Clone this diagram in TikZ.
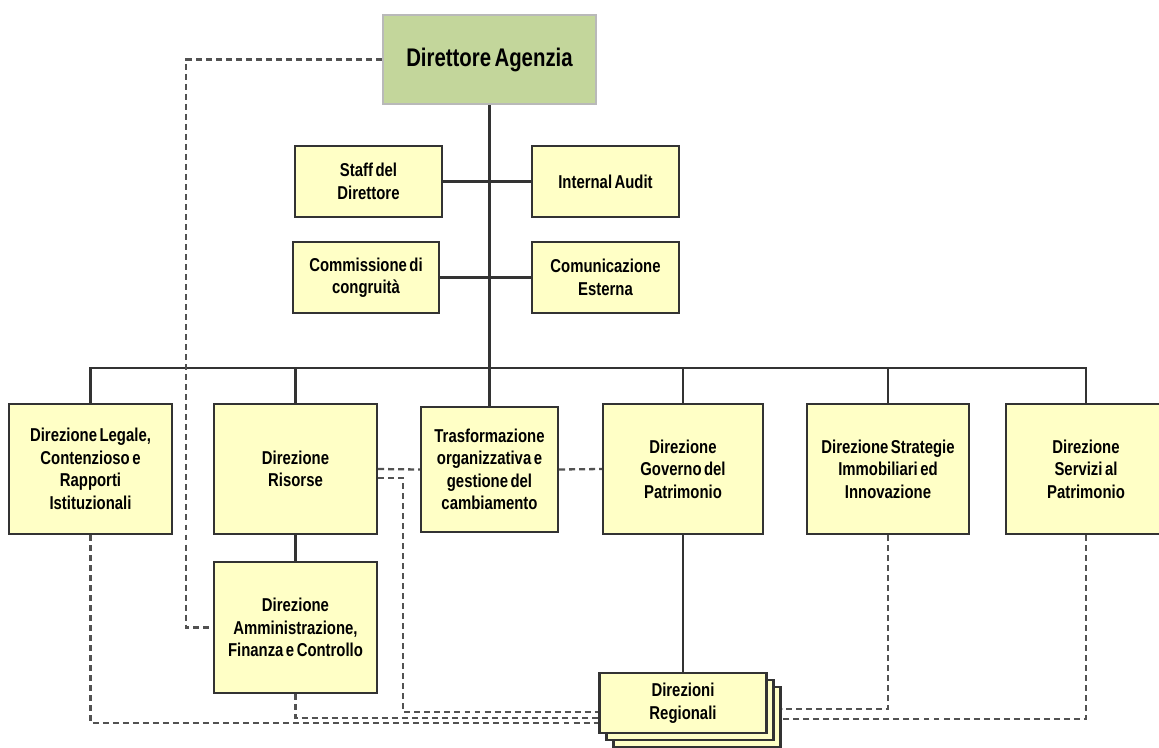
\documentclass[tikz,border=0pt]{standalone}
\usepackage{fontspec}
\setmainfont{Liberation Sans}[FakeStretch=0.8,WordSpace=0.6]
\usetikzlibrary{calc}
\definecolor{boxyellow}{HTML}{FFFFC6}
\definecolor{boxgreen}{HTML}{C3D69B}
\definecolor{linegray}{HTML}{333333}
\tikzset{
  unit/.style={draw=linegray, line width=1.2pt, fill=boxyellow, align=center, inner sep=2pt,
    font=\bfseries\fontsize{10.6}{12.8}\selectfont},
  link/.style={linegray, line width=1.2pt},
  dotlink/.style={linegray!85, line width=1.3pt, dash pattern=on 3.4pt off 2.3pt}
}
\begin{document}
\begin{tikzpicture}[x=0.02cm,y=-0.02cm]
  \useasboundingbox (0,0) rectangle (1159,747);
  \fill[white] (0,0) rectangle (1159,747);
  \clip (0,0) rectangle (1159,747);
  % vertice
  \node[unit, fill=boxgreen, draw=gray!55, minimum width=4.26cm, minimum height=1.78cm,
    font=\bfseries\fontsize{14.5}{17}\selectfont] (dir) at (489.5,59.5) {Direttore Agenzia};
  % staff
  \node[unit, minimum width=2.94cm, minimum height=1.42cm] (staff) at (368.5,181.5) {Staff del\\Direttore};
  \node[unit, minimum width=2.94cm, minimum height=1.42cm] (audit) at (605.5,181.5) {Internal Audit};
  \node[unit, minimum width=2.92cm, minimum height=1.42cm] (comm) at (366,277.5) {Commissione di\\congruità};
  \node[unit, minimum width=2.94cm, minimum height=1.42cm] (comest) at (605.5,277.5) {Comunicazione\\Esterna};
  % direzioni centrali
  \node[unit, minimum width=3.26cm, minimum height=2.6cm] (legale) at (90.5,469) {Direzione Legale,\\Contenzioso e\\Rapporti\\Istituzionali};
  \node[unit, minimum width=3.26cm, minimum height=2.6cm] (risorse) at (295.5,469) {Direzione\\Risorse};
  \node[unit, minimum width=2.74cm, minimum height=2.5cm] (trasf) at (489.5,469.5) {Trasformazione\\organizzativa e\\gestione del\\cambiamento};
  \node[unit, minimum width=3.2cm, minimum height=2.6cm] (governo) at (683,469) {Direzione\\Governo del\\Patrimonio};
  \node[unit, minimum width=3.24cm, minimum height=2.6cm] (strat) at (888,469) {Direzione Strategie\\Immobiliari ed\\Innovazione};
  \node[unit, minimum width=3.2cm, minimum height=2.6cm] (servizi) at (1086,469) {Direzione\\Servizi al\\Patrimonio};
  \node[unit, minimum width=3.26cm, minimum height=2.62cm] (ammin) at (295.5,627.5) {Direzione\\Amministrazione,\\Finanza e Controllo};
  % direzioni regionali (pila)
  \node[unit, minimum width=3.34cm, minimum height=1.2cm] (reg3) at (697,717) {};
  \node[unit, minimum width=3.34cm, minimum height=1.2cm] (reg2) at (690,710) {};
  \node[unit, minimum width=3.34cm, minimum height=1.2cm] (reg) at (683,703) {Direzioni\\Regionali};
  % linee gerarchiche
  \coordinate (bus) at (489.5,368);
  \draw[link] (dir.south) -- (trasf.north);
  \draw[link] (staff.east) -- (audit.west);
  \draw[link] (comm.east) -- (comest.west);
  \draw[link] (legale.north) |- (bus) -| (servizi.north);
  \foreach \n in {risorse,governo,strat}
    \draw[link] (\n.north) -- (\n.north |- bus);
  \draw[link] (risorse.south) -- (ammin.north);
  \draw[link] (governo.south) -- (reg.north);
  % linee funzionali
  \draw[dotlink] (dir.west) -| (186,627.5) -- (ammin.west);
  \draw[dotlink] (risorse.east) -- (trasf.west);
  \draw[dotlink] (trasf.east) -- (governo.west);
  \draw[dotlink] ($(risorse.east)+(0,9)$) -- ++(25,0) |- ($(reg.west)+(0,9)$);
  \draw[dotlink] (ammin.south) |- ($(reg.west)+(0,15)$);
  \draw[dotlink] (legale.south) |- ($(reg.west)+(0,20)$);
  \draw[dotlink] (strat.south) |- ($(reg3.east)+(0,-8)$);
  \draw[dotlink] (servizi.south) |- ($(reg3.east)+(0,2)$);
\end{tikzpicture}
\end{document}
